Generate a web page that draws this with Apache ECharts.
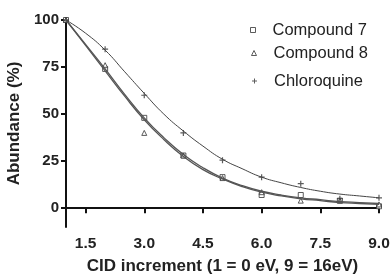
<!DOCTYPE html>
<html>
<head>
<meta charset="utf-8">
<script src="https://cdn.jsdelivr.net/npm/echarts@6/dist/echarts.min.js"></script>
<style>html,body{margin:0;padding:0;background:#fff}#c{width:390px;height:275px}</style>
</head>
<body>
<div id="c"></div>
<script>
// Measured points (x = CID increment)
var steps = [1, 2, 3, 4, 5, 6, 7, 8, 9];
var compound7 = [100, 74, 48, 28, 16.5, 7, 7, 4, 1];
var compound8 = [100, 76, 40, 28, 16, 8.5, 4, 4, 2];
var chloroquine = [100, 84.5, 60, 40, 25.5, 16.5, 13, 5, 5.5];

// Fitted curves
var fitX = [1, 1.5, 2, 2.5, 3, 3.5, 4, 4.5, 5, 5.5, 6, 6.5, 7, 7.5, 8, 8.5, 9];
var fit7 = [100, 87, 74, 60.5, 48, 37.5, 28.5, 21.5, 16, 12, 9, 7, 5.5, 4.5, 3.5, 3, 2.5];
var fit8 = [100, 86.5, 73, 59.5, 47, 36.5, 27.5, 20.5, 15.5, 11.5, 8.5, 6.5, 5, 4, 3, 2.5, 2];
var fitCQ = [100, 93, 84, 72.5, 61, 50, 41, 33, 26, 21, 16.5, 13.5, 11, 9, 7.5, 6.5, 5.5];

var xTicks = [1.5, 3.0, 4.5, 6.0, 7.5, 9.0];
var yTicks = [0, 25, 50, 75, 100];
var names = ['Compound 7', 'Compound 8', 'Chloroquine'];

function zip(xs, ys) { return xs.map(function (x, i) { return [x, ys[i]]; }); }

var plusPath = 'path://M4,0H6V4H10V6H6V10H4V6H0V4H4Z';
var font = 'Liberation Sans, Arial, sans-serif';
var hollow = {color: '#fff', borderColor: '#333', borderWidth: 1};

var chart = echarts.init(document.getElementById('c'), null, {renderer: 'canvas'});
var legendBase = {
  orient: 'vertical', itemWidth: 5, itemHeight: 5, itemGap: 10,
  textStyle: {fontFamily: font, fontSize: 16.5, color: '#222', padding: [0, 0, 0, 12]},
  selectedMode: false, padding: 0
};
chart.setOption({
  animation: false,
  backgroundColor: '#fff',
  grid: {left: 66, right: 11, top: 20, bottom: 48, containLabel: false, outerBoundsMode: 'none'},
  legend: [
    Object.assign({}, legendBase, {left: 250, top: 21.5, data: [{name: names[0], icon: 'rect', itemStyle: hollow}]}),
    Object.assign({}, legendBase, {left: 251, top: 44.5, data: [{name: names[1], icon: 'triangle', itemStyle: hollow}]}),
    Object.assign({}, legendBase, {left: 252, top: 72.5, data: [{name: names[2], icon: plusPath}]})
  ],
  xAxis: {
    type: 'value', min: 1, max: 9,
    name: 'CID increment (1 = 0 eV, 9 = 16eV)', nameLocation: 'middle', nameGap: 31,
    nameTextStyle: {fontFamily: font, fontSize: 17, fontWeight: 'bold', color: '#222'},
    axisLine: {show: true, lineStyle: {color: '#111', width: 2}},
    axisTick: {show: true, length: 5, lineStyle: {color: '#111', width: 2}, customValues: xTicks},
    axisLabel: {customValues: xTicks, fontFamily: font, fontSize: 15.5, fontWeight: 'bold', color: '#222', margin: 9,
      formatter: function (v) { return Number(v).toFixed(1); }},
    splitLine: {show: false}
  },
  yAxis: {
    type: 'value', min: -10, max: 100,
    name: 'Abundance (%)', nameLocation: 'middle', nameGap: 40,
    nameTextStyle: {fontFamily: font, fontSize: 17, fontWeight: 'bold', color: '#222'},
    axisLine: {show: true, lineStyle: {color: '#111', width: 2}},
    axisTick: {show: true, length: 5, lineStyle: {color: '#111', width: 2}, customValues: yTicks},
    axisLabel: {customValues: yTicks, fontFamily: font, fontSize: 15, fontWeight: 'bold', color: '#222', margin: 7},
    splitLine: {show: false}
  },
  series: [
    {type: 'line', data: zip(fitX, fit7), smooth: true, symbol: 'none', lineStyle: {color: '#555', width: 1.3}, silent: true},
    {type: 'line', data: zip(fitX, fit8), smooth: true, symbol: 'none', lineStyle: {color: '#555', width: 1.3}, silent: true},
    {type: 'line', data: zip(fitX, fitCQ), smooth: true, symbol: 'none', lineStyle: {color: '#444', width: 1}, silent: true},
    {name: names[0], type: 'scatter', data: zip(steps, compound7), symbol: 'rect', symbolSize: 5, itemStyle: hollow},
    {name: names[1], type: 'scatter', data: zip(steps, compound8), symbol: 'triangle', symbolSize: 5, itemStyle: hollow},
    {name: names[2], type: 'scatter', data: zip(steps, chloroquine), symbol: plusPath, symbolSize: 6,
      itemStyle: {color: '#333'}}
  ]
});
</script>
</body>
</html>
